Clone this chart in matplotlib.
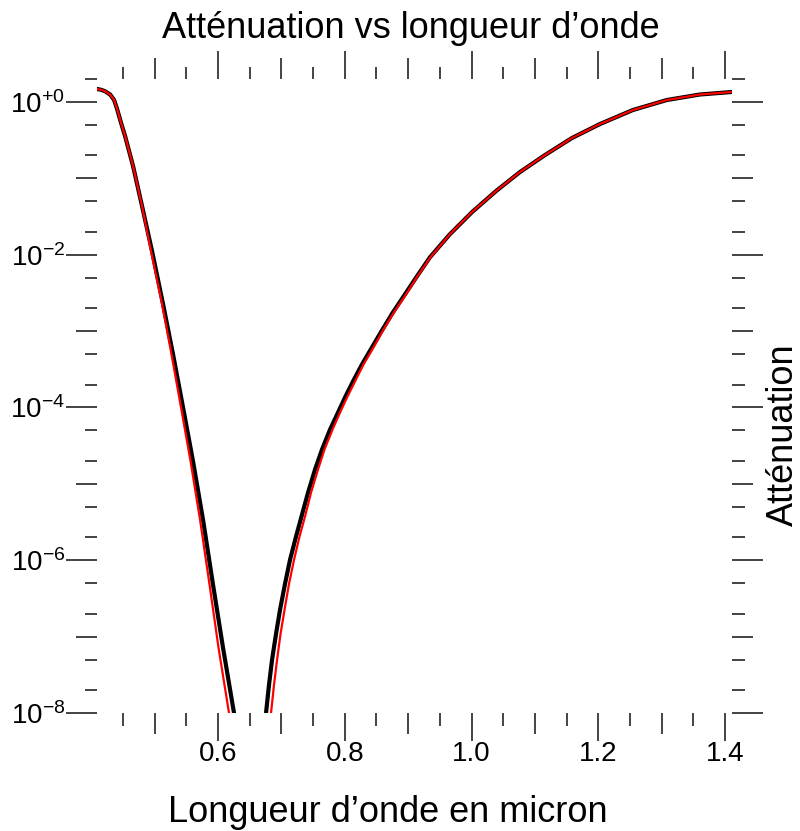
import numpy as np
import matplotlib.pyplot as plt
from matplotlib.ticker import FixedLocator, FuncFormatter, NullFormatter

plt.rcParams['font.family'] = ['Liberation Sans', 'DejaVu Sans']
plt.rcParams['mathtext.fontset'] = 'custom'
plt.rcParams['mathtext.rm'] = 'Liberation Sans'
plt.rcParams['mathtext.it'] = 'Liberation Sans:italic'

# values: wavelength (micron) and log10(attenuation)
# black curve, short-wavelength side of the dip
lam_left = [0.4092, 0.4155, 0.4218, 0.4297, 0.4360, 0.4407, 0.4470, 0.4533, 0.4659, 0.4801,
            0.4959, 0.5133, 0.5290, 0.5448, 0.5606, 0.5763, 0.5921, 0.6079, 0.6252]
log_att_left = [0.170, 0.160, 0.140, 0.098, 0.026, -0.092, -0.275, -0.446, -0.839, -1.364,
                -1.954, -2.649, -3.305, -4.000, -4.708, -5.469, -6.321, -7.148, -8.000]
# black curve, long-wavelength side
lam_right = [0.6757, 0.6804, 0.6852, 0.6915, 0.6978, 0.7057, 0.7136, 0.7230, 0.7325, 0.7420,
             0.7530, 0.7640, 0.7767, 0.7893, 0.8003, 0.8129, 0.8271, 0.8429, 0.8587, 0.8760,
             0.8950, 0.9139, 0.9344, 0.9659, 1.0006, 1.0385, 1.0763, 1.1158, 1.1584, 1.2025,
             1.2546, 1.3082, 1.3603, 1.4107]
log_att_right = [-8.000, -7.633, -7.305, -6.964, -6.649, -6.308, -5.994, -5.692, -5.403, -5.115,
                 -4.813, -4.551, -4.289, -4.066, -3.869, -3.659, -3.436, -3.213, -2.990, -2.754,
                 -2.518, -2.282, -2.033, -1.731, -1.443, -1.167, -0.918, -0.695, -0.472, -0.289,
                 -0.105, 0.026, 0.098, 0.131]

# red curve: same levels, wavelengths shifted slightly outward near the bottom of the dip
lam_left_red = [0.4092, 0.4155, 0.4218, 0.4297, 0.4360, 0.4407, 0.4470, 0.4533, 0.4659, 0.4801,
                0.4943, 0.5117, 0.5266, 0.5416, 0.5567, 0.5716, 0.5866, 0.6008, 0.6173]
lam_right_red = [0.6836, 0.6883, 0.6931, 0.6986, 0.7049, 0.7120, 0.7199, 0.7285, 0.7380, 0.7467,
                 0.7577, 0.7679, 0.7806, 0.7925, 0.8035, 0.8161, 0.8295, 0.8453, 0.8603, 0.8776,
                 0.8966, 0.9147, 0.9352, 0.9659, 1.0006, 1.0385, 1.0763, 1.1158, 1.1584, 1.2025,
                 1.2546, 1.3082, 1.3603, 1.4107]

x_major = [0.5, 0.6, 0.7, 0.8, 0.9, 1.0, 1.1, 1.2, 1.3, 1.4]
x_minor = [0.45, 0.55, 0.65, 0.75, 0.85, 0.95, 1.05, 1.15, 1.25, 1.35]
y_exp = [-8, -7, -6, -5, -4, -3, -2, -1, 0]

att_left = 10.0 ** np.array(log_att_left)
att_right = 10.0 ** np.array(log_att_right)

fig = plt.figure(figsize=(8, 8.31), dpi=100)
ax = fig.add_axes([97/800, 118/831, 635/800, 634/831])

ax.plot(lam_left, att_left, color='black', lw=3.0, solid_joinstyle='round')
ax.plot(lam_right, att_right, color='black', lw=3.0, solid_joinstyle='round')
ax.plot(lam_left_red, att_left, color='#ff0000', lw=1.6, solid_joinstyle='round')
ax.plot(lam_right_red, att_right, color='#ff0000', lw=1.6, solid_joinstyle='round')

ax.set_yscale('log')
ax.set_xlim(0.409, 1.411)
ax.set_ylim(1e-8, 2)

for s in ax.spines.values():
    s.set_visible(False)

ax.xaxis.set_major_locator(FixedLocator(x_major))
ax.xaxis.set_minor_locator(FixedLocator(x_minor))
ax.xaxis.set_major_formatter(FuncFormatter(
    lambda v, p: f'{v:.1f}' if round(v * 10) % 2 == 0 else ''))
ax.xaxis.set_minor_formatter(NullFormatter())

y_major = [10.0 ** k for k in y_exp]
y_minor = [m * 10.0 ** k for k in y_exp[:-1] for m in (2, 5)] + [2.0]
ax.yaxis.set_major_locator(FixedLocator(y_major))
ax.yaxis.set_minor_locator(FixedLocator(y_minor))
ax.yaxis.set_major_formatter(FuncFormatter(
    lambda v, p: (f'$10^{{{int(round(np.log10(v))):+d}}}$'
                  if int(round(np.log10(v))) % 2 == 0 else '')))
ax.yaxis.set_minor_formatter(NullFormatter())

ax.tick_params(axis='both', which='both', direction='out', color='#111111',
               width=1.1, top=True, right=True, labeltop=False, labelright=False)
ax.tick_params(axis='x', which='major', length=20, labelsize=20, pad=0.5)
ax.tick_params(axis='y', which='major', length=22, labelsize=20, pad=1)
ax.tick_params(axis='both', which='minor', length=9)

# medium (unlabelled) ticks
for t, v in zip(ax.xaxis.get_major_ticks(), x_major):
    if round(v * 10) % 2 == 1:
        t.tick1line.set_markersize(15)
        t.tick2line.set_markersize(15)
for t, k in zip(ax.yaxis.get_major_ticks(), y_exp):
    if k % 2 != 0:
        t.tick1line.set_markersize(15)
        t.tick2line.set_markersize(15)

fig.text(411/800, 1 - 28/831, 'Atténuation vs longueur d’onde', ha='center', va='center', fontsize=26)
fig.text(388/800, 1 - 812/831, 'Longueur d’onde en micron', ha='center', va='center', fontsize=26)
fig.text(783/800, 1 - 435/831, 'Atténuation', ha='center', va='center', rotation=90, fontsize=26)

fig.savefig('out.png', dpi=100)
